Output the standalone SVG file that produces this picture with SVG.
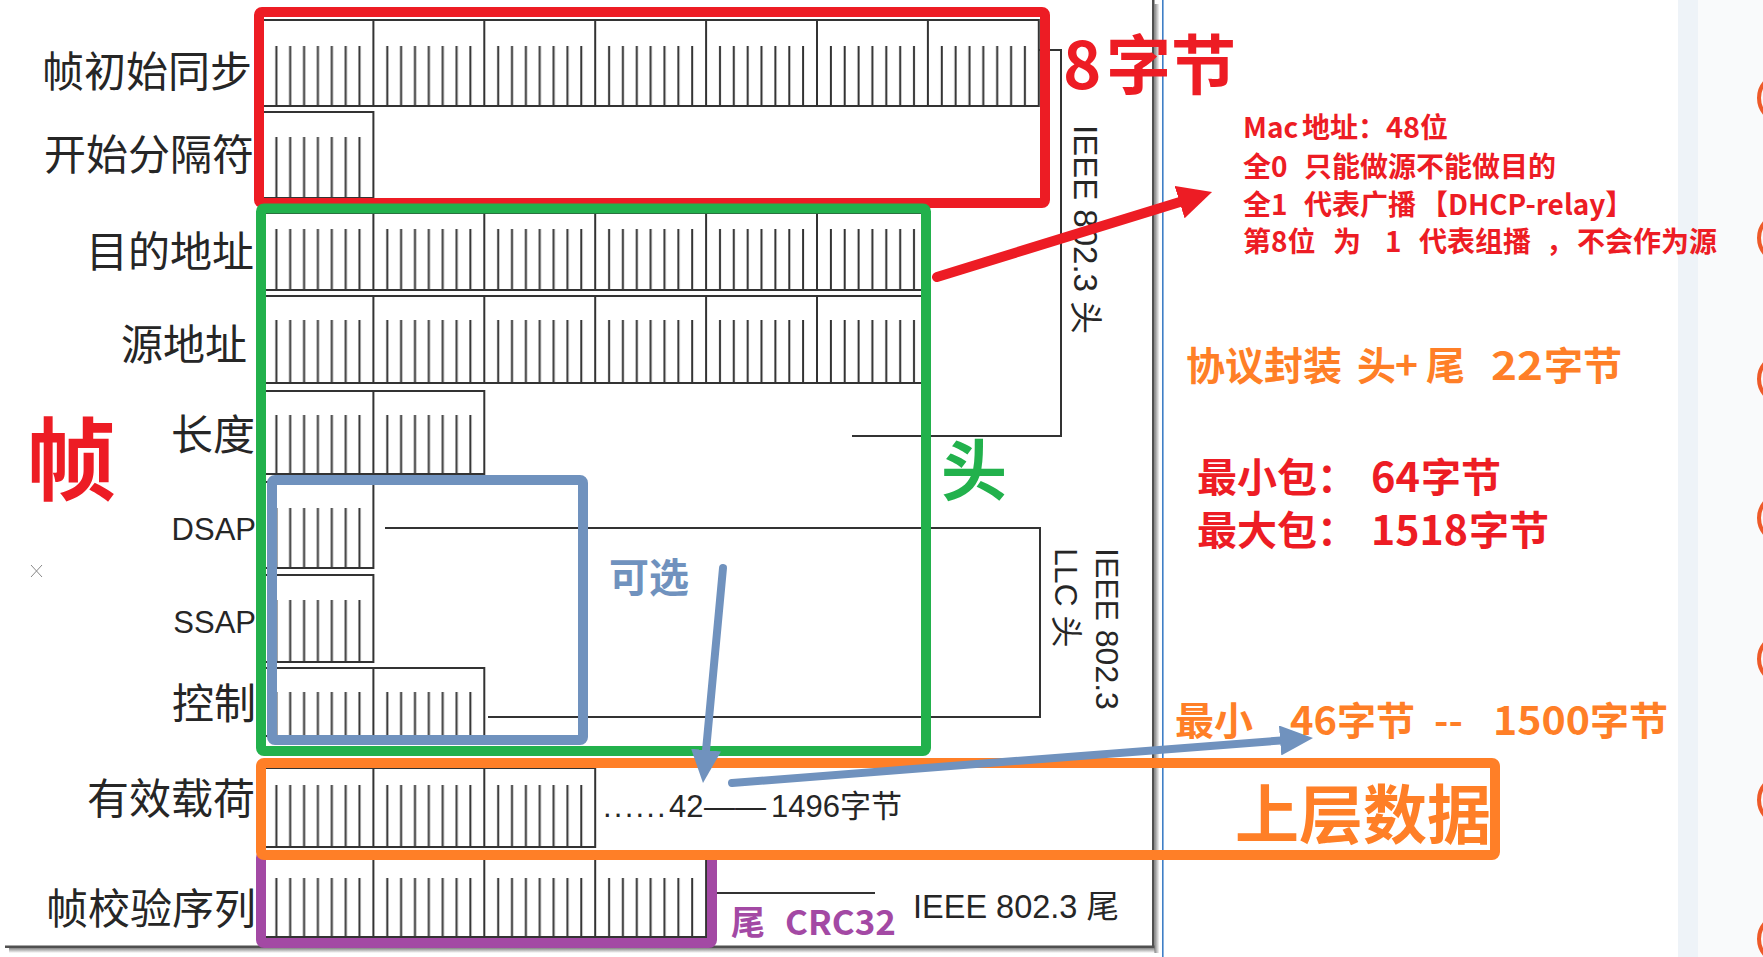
<svg xmlns="http://www.w3.org/2000/svg" width="1763" height="957" viewBox="0 0 1763 957">
<defs>
<style>
.ln{fill:none;stroke:#333333;stroke-width:2}
.tk{fill:url(#ticks)}
.lbl{font-family:"Noto Sans CJK SC",sans-serif;font-size:42px;fill:#262626;text-anchor:end}
.lat{font-family:"Liberation Sans","Noto Sans CJK SC",sans-serif;fill:#262626}
.box{fill:none;stroke-width:10;stroke-linejoin:round}
.bd{font-family:"Noto Sans CJK SC",sans-serif;font-weight:700}
.red{fill:#ED1C24}
.org{fill:#FF7F27}
.circ{fill:none;stroke:#EE5A29;stroke-width:4}
</style>
<pattern id="ticks" patternUnits="userSpaceOnUse" x="262.5" y="0" width="110.9" height="957">
<path d="M13.9 0V957M27.7 0V957M41.6 0V957M55.4 0V957M69.3 0V957M83.2 0V957M97 0V957" stroke="#333333" stroke-width="2"/>
</pattern>
<marker id="ahRed" markerUnits="userSpaceOnUse" markerWidth="34" markerHeight="34" viewBox="0 0 34 34" refX="8" refY="17" orient="auto"><path d="M0 0L34 17L0 34Z" fill="#ED1C24"/></marker>
<marker id="ahBlue" markerUnits="userSpaceOnUse" markerWidth="33" markerHeight="30" viewBox="0 0 33 30" refX="8" refY="15" orient="auto"><path d="M0 0L33 15L0 30Z" fill="#7092BE"/></marker>
<linearGradient id="shH" x1="0" x2="1" y1="0" y2="0"><stop offset="0" stop-color="#666" stop-opacity="0.8"/><stop offset="1" stop-color="#666" stop-opacity="0"/></linearGradient>
<linearGradient id="shV" x1="0" x2="0" y1="0" y2="1"><stop offset="0" stop-color="#666" stop-opacity="0.8"/><stop offset="1" stop-color="#666" stop-opacity="0"/></linearGradient>
</defs>
<rect width="1763" height="957" fill="#ffffff"/>
<g id="background">
<rect x="1678" y="0" width="20" height="957" fill="#eef3f8"/>
<rect x="1698" y="0" width="65" height="957" fill="#f9fafb"/>
<circle class="circ" cx="1783" cy="98" r="24"/>
<circle class="circ" cx="1783" cy="238" r="24"/>
<circle class="circ" cx="1783" cy="379" r="24"/>
<circle class="circ" cx="1783" cy="518" r="24"/>
<circle class="circ" cx="1783" cy="659" r="24"/>
<circle class="circ" cx="1783" cy="800" r="24"/>
<circle class="circ" cx="1783" cy="939" r="24"/>
<rect x="1152" y="0" width="2.5" height="948" fill="#505050"/>
<rect x="1154.5" y="4" width="5" height="949" fill="url(#shH)"/>
<rect x="5" y="945.5" width="1149.5" height="2.5" fill="#505050"/>
<rect x="9" y="948" width="1146" height="5" fill="url(#shV)"/>
<rect x="1162" y="0" width="1.6" height="957" fill="#3f7fc6"/>
<path d="M31 565L42 577M42 565L31 577" stroke="#888" stroke-width="1"/>
</g>
<g id="row-sync">
<rect class="tk" x="262.5" y="46" width="776.3" height="60"/>
<path class="ln" d="M262.5 20H1038.8V106H262.5ZM373.4 20V106M484.3 20V106M595.2 20V106M706.1 20V106M817 20V106M927.9 20V106"/>
<text class="lbl" x="252" y="87">帧初始同步</text>
</g>
<g id="row-sfd">
<rect class="tk" x="262.5" y="137" width="110.9" height="61"/>
<path class="ln" d="M262.5 112H373.4V198H262.5Z"/>
<text class="lbl" x="254" y="170">开始分隔符</text>
</g>
<g id="row-dst">
<rect class="tk" x="262.5" y="229" width="665.4" height="61"/>
<path class="ln" d="M262.5 213H927.9V290H262.5ZM373.4 213V290M484.3 213V290M595.2 213V290M706.1 213V290M817 213V290"/>
<text class="lbl" x="254" y="267">目的地址</text>
</g>
<g id="row-src">
<rect class="tk" x="262.5" y="320" width="665.4" height="63"/>
<path class="ln" d="M262.5 296H927.9V383H262.5ZM373.4 296V383M484.3 296V383M595.2 296V383M706.1 296V383M817 296V383"/>
<text class="lbl" x="247" y="360">源地址</text>
</g>
<g id="row-len">
<rect class="tk" x="262.5" y="415" width="221.8" height="59"/>
<path class="ln" d="M262.5 391H484.3V474H262.5ZM373.4 391V474"/>
<text class="lbl" x="255" y="450">长度</text>
</g>
<g id="row-dsap">
<rect class="tk" x="262.5" y="508" width="110.9" height="60"/>
<path class="ln" d="M262.5 482H373.4V568H262.5Z"/>
<text class="lat" x="256" y="540" font-size="31" text-anchor="end">DSAP</text>
</g>
<g id="row-ssap">
<rect class="tk" x="262.5" y="600" width="110.9" height="62"/>
<path class="ln" d="M262.5 575H373.4V662H262.5Z"/>
<text class="lat" x="256" y="633" font-size="31" text-anchor="end">SSAP</text>
</g>
<g id="row-ctrl">
<rect class="tk" x="262.5" y="692" width="221.8" height="44"/>
<path class="ln" d="M262.5 668H484.3V736H262.5ZM373.4 668V736"/>
<text class="lbl" x="256" y="719">控制</text>
</g>
<g id="row-payload">
<rect class="tk" x="262.5" y="785" width="332.7" height="62"/>
<path class="ln" d="M262.5 768H595.2V847H262.5ZM373.4 768V847M484.3 768V847"/>
<text class="lbl" x="255" y="814">有效载荷</text>
<text class="lat" y="817" font-size="31"><tspan x="603" letter-spacing="2.2">......</tspan><tspan x="669">42</tspan><tspan x="704">——</tspan><tspan x="771">1496字节</tspan></text>
</g>
<g id="row-fcs">
<rect class="tk" x="262.5" y="878" width="443.6" height="59"/>
<path class="ln" d="M262.5 858H706.1V937H262.5ZM373.4 858V937M484.3 858V937M595.2 858V937"/>
<text class="lbl" x="256" y="924">帧校验序列</text>
</g>
<g id="connectors">
<path class="ln" d="M1038.8 50H1061V436H852"/>
<path class="ln" d="M385 528H1040V717H488"/>
<path class="ln" d="M717 893H875"/>
</g>
<g id="std-labels">
<text class="lat" font-size="33" transform="translate(1074 125) rotate(90)">IEEE 802.3 头</text>
<text class="lat" font-size="32" transform="translate(1096 548) rotate(90)">IEEE 802.3</text>
<text class="lat" font-size="32" transform="translate(1055 548) rotate(90)">LLC 头</text>
<text class="lat" font-size="32.5" x="913" y="918">IEEE 802.3 尾</text>
</g>
<g id="box-preamble"><rect class="box" x="259" y="12" width="786" height="191" rx="3" stroke="#ED1C24"/></g>
<g id="box-header"><rect class="box" x="261" y="208.5" width="665" height="542.5" rx="3" stroke="#22B14C"/></g>
<g id="box-optional"><rect class="box" x="272" y="480" width="311" height="260" rx="3" stroke="#7092BE"/></g>
<g id="box-trailer"><rect class="box" x="261" y="855" width="451" height="88" rx="3" stroke="#A349A4"/></g>
<g id="box-data"><rect class="box" x="261" y="763" width="1234" height="92" rx="3" stroke="#FF7F27"/></g>
<g id="arrows" fill="none" stroke-linecap="round">
<line x1="937" y1="277" x2="1187.2" y2="199.7" stroke="#ED1C24" stroke-width="10" marker-end="url(#ahRed)"/>
<line x1="723" y1="568" x2="705.3" y2="758.1" stroke="#7092BE" stroke-width="8" marker-end="url(#ahBlue)"/>
<line x1="732" y1="783" x2="1288.1" y2="739.9" stroke="#7092BE" stroke-width="8" marker-end="url(#ahBlue)"/>
</g>
<g id="annotations">
<text class="bd red" x="26" y="493" font-size="90">帧</text>
<text class="bd red" y="89" font-size="65"><tspan x="1063">8</tspan><tspan x="1106">字节</tspan></text>
<g class="bd red" font-size="28">
<text y="138"><tspan x="1243">Mac</tspan><tspan x="1302">地址：</tspan><tspan x="1386" textLength="34" lengthAdjust="spacingAndGlyphs">48</tspan><tspan x="1420">位</tspan></text>
<text y="177"><tspan x="1243">全0</tspan><tspan x="1304">只能做源不能做目的</tspan></text>
<text y="215"><tspan x="1243">全1</tspan><tspan x="1304">代表广播</tspan><tspan x="1420">【DHCP-relay】</tspan></text>
<text y="252"><tspan x="1243">第8位</tspan><tspan x="1333">为</tspan><tspan x="1385">1</tspan><tspan x="1419">代表组播</tspan><tspan x="1546">，</tspan><tspan x="1577">不会作为源</tspan></text>
</g>
<text class="bd org" y="380" font-size="39"><tspan x="1186">协议封装</tspan><tspan x="1357">头</tspan><tspan x="1395">+</tspan><tspan x="1426">尾</tspan><tspan x="1491" textLength="52" lengthAdjust="spacingAndGlyphs">22</tspan><tspan x="1544">字节</tspan></text>
<text class="bd red" y="492" font-size="40"><tspan x="1197">最小包：</tspan><tspan x="1371" textLength="49" lengthAdjust="spacingAndGlyphs">64</tspan><tspan x="1421">字节</tspan></text>
<text class="bd red" y="545" font-size="40"><tspan x="1197">最大包：</tspan><tspan x="1371" textLength="97" lengthAdjust="spacingAndGlyphs">1518</tspan><tspan x="1469">字节</tspan></text>
<text class="bd" x="941" y="495" font-size="66" fill="#22B14C">头</text>
<text class="bd" x="609" y="592" font-size="40" fill="#7092BE">可选</text>
<text class="bd org" y="735" font-size="39"><tspan x="1175">最小</tspan><tspan x="1290" textLength="47" lengthAdjust="spacingAndGlyphs">46</tspan><tspan x="1337">字节</tspan><tspan x="1434">--</tspan><tspan x="1493" textLength="97" lengthAdjust="spacingAndGlyphs">1500</tspan><tspan x="1590">字节</tspan></text>
<text class="bd org" x="1235" y="838" font-size="64">上层数据</text>
<text class="bd" y="935" font-size="34" fill="#A349A4"><tspan x="731">尾</tspan><tspan x="785" textLength="111" lengthAdjust="spacingAndGlyphs">CRC32</tspan></text>
</g>
</svg>
